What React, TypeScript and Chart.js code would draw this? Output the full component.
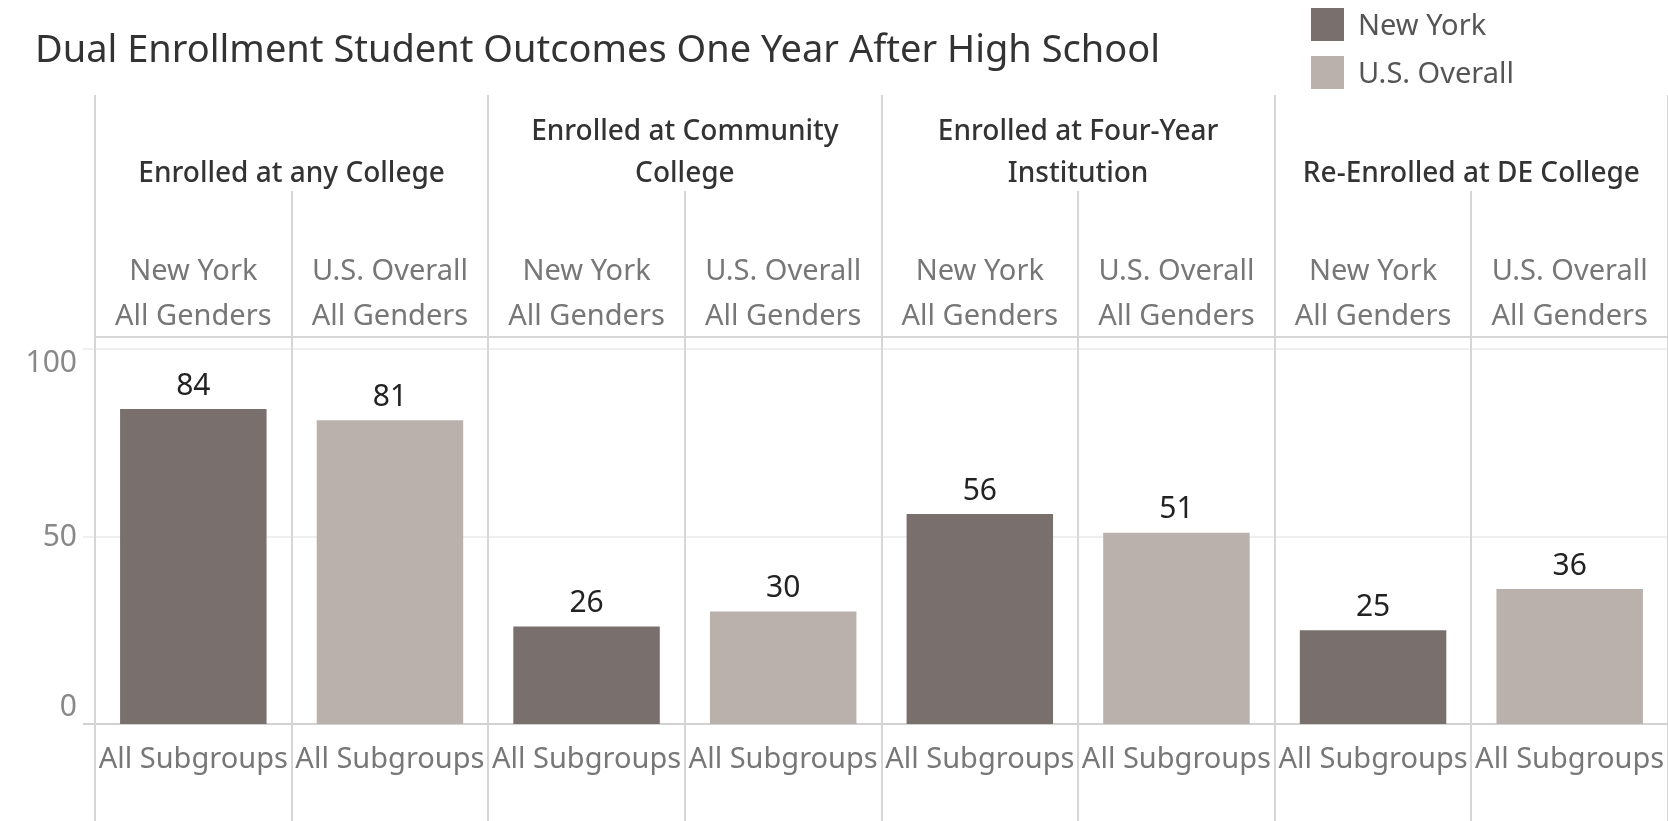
import React, { useEffect, useRef } from "react";
import { Chart, registerables } from "chart.js";

Chart.register(...registerables);

const TITLE = "Dual Enrollment Student Outcomes One Year After High School";
const groupTitles: string[][] = [
  ["Enrolled at any College"],
  ["Enrolled at Community", "College"],
  ["Enrolled at Four-Year", "Institution"],
  ["Re-Enrolled at DE College"],
];
const seriesNames = ["New York", "U.S. Overall"];
const newYorkValues = [84, 26, 56, 25];
const usOverallValues = [81, 30, 51, 36];
const genderLabel = "All Genders";
const subgroupLabel = "All Subgroups";
const yTicks = [0, 50, 100];
const seriesColors = ["#79706E", "#BAB0AC"];

const FONT = '"Noto Sans", sans-serif';

export default function App() {
  const ref = useRef<HTMLCanvasElement | null>(null);

  useEffect(() => {
    const canvas = ref.current;
    if (!canvas) return;

    const labels: string[] = [];
    const nyData: (number | null)[] = [];
    const usData: (number | null)[] = [];
    groupTitles.forEach((g, gi) => {
      labels.push(g.join(" ") + " | " + seriesNames[0]);
      labels.push(g.join(" ") + " | " + seriesNames[1]);
      nyData.push(newYorkValues[gi], null);
      usData.push(null, usOverallValues[gi]);
    });

    const decor = {
      id: "decor",
      beforeDatasetsDraw(chart: any) {
        const ctx = chart.ctx as CanvasRenderingContext2D;
        const x = chart.scales.x;
        const y = chart.scales.y;
        const W = chart.width;
        const H = chart.height;
        const n = labels.length;
        const cw = (x.right - x.left) / n;
        ctx.save();
        yTicks.forEach((t) => {
          const py = Math.round(y.getPixelForValue(t));
          ctx.strokeStyle = t === 0 ? "#d2d2d2" : "#efefef";
          ctx.lineWidth = 2;
          ctx.beginPath();
          ctx.moveTo(x.left - 12, py);
          ctx.lineTo(W, py);
          ctx.stroke();
        });
        ctx.strokeStyle = "#d6d6d6";
        ctx.lineWidth = 2;
        ctx.beginPath();
        ctx.moveTo(x.left, 337);
        ctx.lineTo(W, 337);
        ctx.stroke();
        for (let i = 0; i <= n; i++) {
          const px = Math.round(x.left + i * cw);
          const top = i % 2 === 0 ? 95 : 191;
          ctx.beginPath();
          ctx.moveTo(px, top);
          ctx.lineTo(px, H);
          ctx.stroke();
        }
        ctx.restore();
      },
      afterDatasetsDraw(chart: any) {
        const ctx = chart.ctx as CanvasRenderingContext2D;
        const x = chart.scales.x;
        const y = chart.scales.y;
        const n = labels.length;
        const cw = (x.right - x.left) / n;
        ctx.save();
        ctx.fillStyle = "#333333";
        ctx.font = `38px ${FONT}`;
        ctx.textAlign = "left";
        ctx.textBaseline = "middle";
        ctx.fillText(TITLE, 35, 51);

        const legendY = [24, 72];
        seriesNames.forEach((name, i) => {
          ctx.fillStyle = seriesColors[i];
          ctx.fillRect(1311, legendY[i] - 16, 33, 33);
          ctx.fillStyle = "#555555";
          ctx.font = `29px ${FONT}`;
          ctx.textAlign = "left";
          ctx.fillText(name, 1358, legendY[i] + 3);
        });

        ctx.textAlign = "center";
        ctx.fillStyle = "#333333";
        ctx.font = `500 28px ${FONT}`;
        groupTitles.forEach((g, gi) => {
          const cx = x.left + (gi * 2 + 1) * cw;
          const ys = g.length === 2 ? [132, 174] : [174];
          g.forEach((line, li) => ctx.fillText(line, cx, ys[li]));
        });

        ctx.fillStyle = "#777777";
        ctx.font = `29px ${FONT}`;
        for (let i = 0; i < n; i++) {
          const cx = x.getPixelForValue(i);
          ctx.fillText(seriesNames[i % 2], cx, 272);
          ctx.fillText(genderLabel, cx, 317);
          ctx.fillText(subgroupLabel, cx, 760);
        }

        ctx.textAlign = "right";
        ctx.fillStyle = "#888888";
        ctx.font = `30px ${FONT}`;
        yTicks.forEach((t) => {
          let py = y.getPixelForValue(t);
          if (t === y.max) py += 13;
          if (t === y.min) py -= 18;
          ctx.fillText(String(t), 77, py + 1);
        });

        ctx.textAlign = "center";
        ctx.fillStyle = "#222222";
        ctx.font = `30px ${FONT}`;
        chart.data.datasets.forEach((ds: any, di: number) => {
          const meta = chart.getDatasetMeta(di);
          meta.data.forEach((bar: any, i: number) => {
            const v = ds.data[i];
            if (v === null || v === undefined) return;
            ctx.fillText(String(v), bar.x, bar.y - 23);
          });
        });
        ctx.restore();
      },
    };

    const chart = new Chart(canvas, {
      type: "bar",
      data: {
        labels,
        datasets: [
          { label: seriesNames[0], data: nyData, backgroundColor: seriesColors[0] },
          { label: seriesNames[1], data: usData, backgroundColor: seriesColors[1] },
        ],
      },
      options: {
        animation: false,
        responsive: false,
        maintainAspectRatio: false,
        layout: { padding: { left: 95, right: 0, top: 349, bottom: 97 } },
        datasets: { bar: { grouped: false, barPercentage: 0.745, categoryPercentage: 1 } },
        scales: {
          x: { display: false },
          y: { display: false, min: 0, max: 100 },
        },
        plugins: { legend: { display: false }, tooltip: { enabled: false } },
      } as any,
      plugins: [decor],
    });
    return () => chart.destroy();
  }, []);

  return (
    <div style={{ position: "fixed", left: 0, top: 0, width: 1668, height: 821, background: "#fff" }}>
      <canvas ref={ref} width={1668} height={821} style={{ display: "block" }} />
    </div>
  );
}
